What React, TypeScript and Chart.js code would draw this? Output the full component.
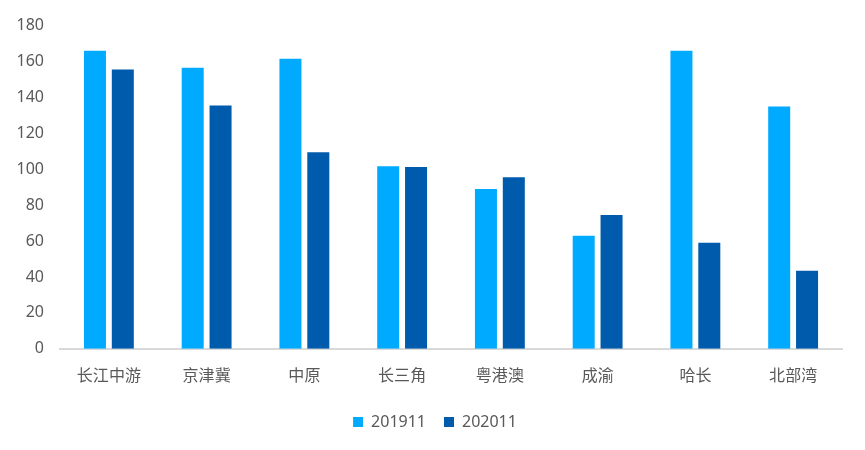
import React, { useEffect, useRef } from "react";
import { Chart, registerables } from "chart.js";

Chart.register(...registerables);

const categories = ["长江中游", "京津冀", "中原", "长三角", "粤港澳", "成渝", "哈长", "北部湾"];
const series2019Label = "201911";
const series2020Label = "202011";
const series2019 = [166, 156.5, 161.5, 101.7, 89, 63, 166, 135];
const series2020 = [155.5, 135.5, 109.5, 101.2, 95.6, 74.5, 59, 43.5];
const yTicks = [0, 20, 40, 60, 80, 100, 120, 140, 160, 180];

const FONT = "'Noto Sans', 'Noto Sans CJK SC', sans-serif";
const TEXT = "#595959";

const legendShift = {
  id: "legendShift",
  beforeDraw(chart: any) {
    const lg = chart.legend;
    if (lg && !lg._shifted) {
      lg.left += 14;
      lg.right += 14;
      lg._shifted = true;
    }
  },
};

export default function App() {
  const ref = useRef<HTMLCanvasElement | null>(null);
  useEffect(() => {
    document.body.style.margin = "0";
    const ctx = ref.current!;
    const chart = new Chart(ctx, {
      type: "bar",
      data: {
        labels: categories,
        datasets: [
          { label: series2019Label, data: series2019, backgroundColor: "#00AAFF", borderWidth: 0 },
          { label: series2020Label, data: series2020, backgroundColor: "#005BAC", borderWidth: 0 },
        ],
      },
      plugins: [legendShift],
      options: {
        animation: false,
        responsive: false,
        devicePixelRatio: 1,
        layout: { padding: { top: 14, left: 0, right: 23, bottom: 10 } },
        datasets: { bar: { categoryPercentage: 0.57, barPercentage: 0.79 } } as any,
        plugins: {
          tooltip: { enabled: false },
          legend: {
            position: "bottom",
            labels: {
              boxWidth: 10,
              boxHeight: 10,
              padding: 18,
              color: TEXT,
              font: { family: FONT, size: 16 },
            },
          },
        },
        scales: {
          x: {
            grid: { display: false },
            border: { display: true, color: "#d9d9d9", width: 2 },
            ticks: { color: TEXT, font: { family: FONT, size: 16 }, padding: 10, maxRotation: 0 },
          },
          y: {
            min: 0,
            max: 180,
            afterBuildTicks: (scale: any) => {
              scale.ticks = yTicks.map((v) => ({ value: v }));
            },
            afterFit: (scale: any) => {
              scale.width = 60;
            },
            grid: { display: false, drawTicks: false },
            border: { display: false },
            ticks: { color: TEXT, font: { family: FONT, size: 16 }, padding: 16 },
          },
        },
      },
    });
    return () => chart.destroy();
  }, []);
  return (
    <div style={{ width: 865, height: 450 }}>
      <canvas ref={ref} width={865} height={450} style={{ display: "block" }} />
    </div>
  );
}
